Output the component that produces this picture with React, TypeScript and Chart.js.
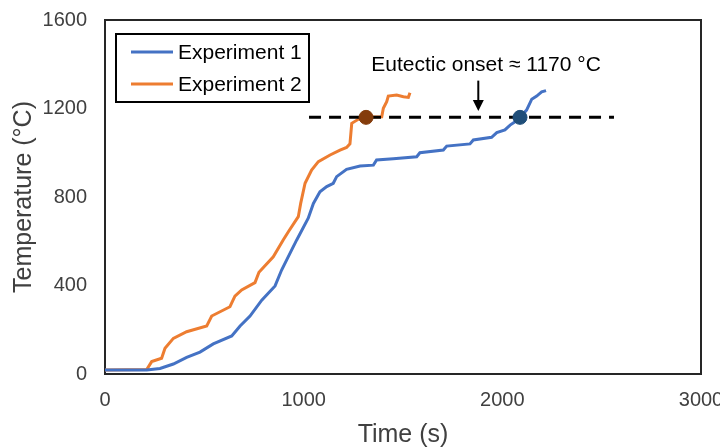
import React, { useEffect, useRef } from "react";
import { Chart, registerables } from "chart.js";

Chart.register(...registerables);

// ---- Data ----
const exp1Label = "Experiment 1";
const exp1Time = [0, 210, 277, 344, 411, 478, 545, 638, 680, 730, 789, 856, 889, 914, 965, 1023, 1049, 1082, 1116, 1149, 1166, 1216, 1284, 1351, 1367, 1451, 1569, 1585, 1703, 1720, 1837, 1854, 1946, 1972, 2013, 2039, 2064, 2089, 2122, 2148, 2173, 2198, 2220];
const exp1Temp = [18, 18, 25, 45, 75, 99, 136, 172, 217, 262, 334, 398, 470, 515, 606, 704, 771, 824, 847, 862, 892, 925, 940, 944, 967, 973, 982, 1000, 1012, 1030, 1040, 1058, 1070, 1091, 1103, 1125, 1140, 1160, 1193, 1242, 1256, 1275, 1281];

const exp2Label = "Experiment 2";
const exp2Time = [0, 210, 235, 285, 302, 344, 411, 512, 537, 629, 654, 688, 755, 775, 847, 897, 923, 973, 985, 1007, 1040, 1074, 1133, 1183, 1216, 1233, 1242, 1275, 1314, 1393, 1401, 1418, 1426, 1468, 1502, 1527, 1535];
const exp2Temp = [18, 20, 56, 71, 116, 161, 191, 217, 262, 304, 352, 380, 413, 460, 530, 606, 643, 711, 771, 862, 922, 960, 990, 1012, 1024, 1040, 1133, 1151, 1160, 1163, 1201, 1231, 1256, 1261, 1253, 1250, 1271];

const onsetLineTime = [1027, 2562];
const onsetLineTemp = [1160, 1160];
const onsetMarkerTime = [1314, 2089];
const onsetMarkerTemp = [1160, 1160];
const annotationText = "Eutectic onset \u2248 1170 \u00B0C";
const annotationTime = 1918;
const annotationTemp = 1369;
const arrowTime = 1879;
const arrowFromTemp = 1326;
const arrowToTemp = 1189;

const xTicks = [0, 1000, 2000, 3000];
const yTicks = [0, 400, 800, 1200, 1600];
const xTitle = "Time (s)";
const yTitle = "Temperature (\u00B0C)";

const FONT = "'Liberation Sans', Arial, sans-serif";
const BLUE = "#4472C4";
const ORANGE = "#ED7D31";

const toPoints = (ts: number[], vs: number[]) => ts.map((t, i) => ({ x: t, y: vs[i] }));

const decorPlugin = {
  id: "decor",
  beforeDatasetsDraw(chart: any) {
    const { ctx, chartArea } = chart;
    ctx.save();
    ctx.strokeStyle = "#262626";
    ctx.lineWidth = 2;
    ctx.strokeRect(chartArea.left, chartArea.top, chartArea.right - chartArea.left, chartArea.bottom - chartArea.top);
    ctx.restore();
  },
  afterDraw(chart: any) {
    const { ctx, chartArea, scales } = chart;
    const xs = scales.x;
    const ys = scales.y;
    ctx.save();
    // axis titles
    ctx.fillStyle = "#404040";
    ctx.font = `25px ${FONT}`;
    ctx.textAlign = "center";
    ctx.textBaseline = "alphabetic";
    ctx.fillText(xTitle, (chartArea.left + chartArea.right) / 2, 442);
    ctx.save();
    ctx.translate(31, (chartArea.top + chartArea.bottom) / 2);
    ctx.rotate(-Math.PI / 2);
    ctx.fillText(yTitle, 0, 0);
    ctx.restore();

    // annotation text
    ctx.fillStyle = "#000";
    ctx.font = `21px ${FONT}`;
    ctx.textAlign = "center";
    ctx.fillText(annotationText, xs.getPixelForValue(annotationTime), ys.getPixelForValue(annotationTemp));

    // arrow
    const ax = xs.getPixelForValue(arrowTime);
    const ay1 = ys.getPixelForValue(arrowFromTemp);
    const ay2 = ys.getPixelForValue(arrowToTemp);
    ctx.strokeStyle = "#000";
    ctx.lineWidth = 2;
    ctx.beginPath();
    ctx.moveTo(ax, ay1);
    ctx.lineTo(ax, ay2 - 8);
    ctx.stroke();
    ctx.fillStyle = "#000";
    ctx.beginPath();
    ctx.moveTo(ax - 5.5, ay2 - 11);
    ctx.lineTo(ax + 5.5, ay2 - 11);
    ctx.lineTo(ax, ay2);
    ctx.closePath();
    ctx.fill();

    // legend
    const lx = 116, ly = 34, lw = 193, lh = 68;
    ctx.strokeStyle = "#000";
    ctx.lineWidth = 2;
    ctx.strokeRect(lx, ly, lw, lh);
    const entries = chart.data.datasets.filter((d: any) => d.showInLegend);
    entries.forEach((d: any, i: number) => {
      const y = 52 + i * 32;
      ctx.strokeStyle = d.borderColor;
      ctx.lineWidth = 3;
      ctx.beginPath();
      ctx.moveTo(131, y);
      ctx.lineTo(173, y);
      ctx.stroke();
      ctx.fillStyle = "#000";
      ctx.font = `21px ${FONT}`;
      ctx.textAlign = "left";
      ctx.textBaseline = "middle";
      ctx.fillText(d.label, 178, y + 1);
    });
    ctx.restore();
  },
};

export default function App() {
  const ref = useRef<HTMLCanvasElement>(null);
  useEffect(() => {
    const chart = new Chart(ref.current as HTMLCanvasElement, {
      type: "line",
      data: {
        datasets: [
          {
            label: "markers",
            data: toPoints(onsetMarkerTime, onsetMarkerTemp),
            showLine: false,
            pointRadius: 7,
            pointBackgroundColor: ["#843C0C", "#1F4E79"],
            pointBorderColor: ["#843C0C", "#1F4E79"],
            order: 0,
          } as any,
          {
            label: "onset",
            data: toPoints(onsetLineTime, onsetLineTemp),
            borderColor: "#000",
            borderWidth: 3,
            borderDash: [12, 8],
            pointRadius: 0,
            order: 1,
          },
          {
            label: exp1Label,
            data: toPoints(exp1Time, exp1Temp),
            borderColor: BLUE,
            borderWidth: 3,
            pointRadius: 0,
            tension: 0,
            order: 2,
            showInLegend: true,
          } as any,
          {
            label: exp2Label,
            data: toPoints(exp2Time, exp2Temp),
            borderColor: ORANGE,
            borderWidth: 3,
            pointRadius: 0,
            tension: 0,
            order: 3,
            showInLegend: true,
          } as any,
        ],
      },
      options: {
        responsive: false,
        animation: false,
        events: [],
        layout: { padding: { top: 20, right: 19, left: 0, bottom: 0 } },
        plugins: { legend: { display: false }, tooltip: { enabled: false }, title: { display: false } },
        scales: {
          x: {
            type: "linear",
            min: 0,
            max: 3000,
            grid: { display: false, drawTicks: false },
            border: { display: false },
            afterBuildTicks: (s: any) => {
              s.ticks = xTicks.map((v) => ({ value: v }));
            },
            afterFit: (s: any) => {
              s.height = 73;
              s.paddingLeft = 0;
              s.paddingRight = 0;
            },
            ticks: {
              autoSkip: false,
              maxRotation: 0,
              minRotation: 0,
              padding: 14,
              color: "#404040",
              font: { family: FONT, size: 20 },
              callback: (v: any) => String(v),
            },
          },
          y: {
            type: "linear",
            min: 0,
            max: 1600,
            grid: { display: false, drawTicks: false },
            border: { display: false },
            afterBuildTicks: (s: any) => {
              s.ticks = yTicks.map((v) => ({ value: v }));
            },
            afterFit: (s: any) => {
              s.width = 105;
              s.paddingTop = 0;
              s.paddingBottom = 0;
            },
            ticks: {
              autoSkip: false,
              padding: 18,
              color: "#404040",
              font: { family: FONT, size: 20 },
              callback: (v: any) => String(v),
            },
          },
        },
      },
      plugins: [decorPlugin],
    });
    return () => chart.destroy();
  }, []);
  return (
    <div style={{ position: "fixed", left: 0, top: 0, width: 720, height: 447, background: "#fff" }}>
      <canvas ref={ref} width={720} height={447} style={{ display: "block", width: 720, height: 447 }} />
    </div>
  );
}
